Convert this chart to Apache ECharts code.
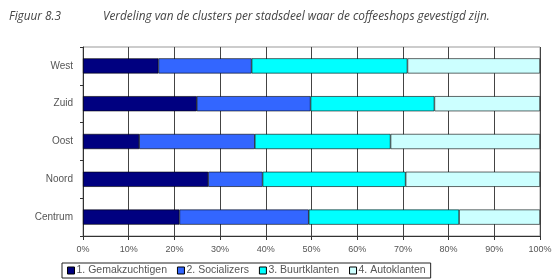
<!DOCTYPE html>
<html>
<head>
<meta charset="utf-8">
<script src="https://cdn.jsdelivr.net/npm/echarts@6/dist/echarts.min.js"></script>
<style>
  html, body { margin: 0; padding: 0; background: #fff; }
  #chart { width: 555px; height: 280px; }
</style>
</head>
<body>
<div id="chart"></div>
<script>
// stadsdelen, van onder naar boven (category axis starts at the bottom)
var districts = ['Centrum', 'Noord', 'Oost', 'Zuid', 'West'];
var clusterNames = ['1. Gemakzuchtigen', '2. Socializers', '3. Buurtklanten', '4. Autoklanten'];
var clusterColors = ['#000080', '#3366ff', '#00ffff', '#ccffff'];

// percentages per cluster, same order as districts
var gemakzuchtigen = [21.1, 27.4, 12.3, 24.9, 16.5];
var socializers = [28.3, 11.9, 25.3, 24.9, 20.4];
var buurtklanten = [32.9, 31.3, 29.7, 27.1, 34.1];
var autoklanten = [17.7, 29.4, 32.7, 23.1, 29.0];

var xTicks = [0, 10, 20, 30, 40, 50, 60, 70, 80, 90, 100];

var chart = echarts.init(document.getElementById('chart'));
var allValues = [gemakzuchtigen, socializers, buurtklanten, autoklanten];

var series = clusterNames.map(function (name, i) {
  return {
    name: name,
    type: 'bar',
    stack: 'totaal',
    barWidth: '40%',
    itemStyle: { color: clusterColors[i], borderColor: '#000', borderWidth: 0.6 },
    data: allValues[i]
  };
});

var titleFont = { fontFamily: 'Open Sans', fontStyle: 'italic', fontWeight: 'normal', fontSize: 11.8, color: '#444' };

var option = {
  animation: false,
  title: [
    { text: 'Figuur 8.3', left: 4, top: 6, textStyle: titleFont },
    { text: 'Verdeling van de clusters per stadsdeel waar de coffeeshops gevestigd zijn.', left: 98, top: 6, textStyle: titleFont }
  ],
  grid: {
    left: 83, right: 15, top: 47, bottom: 44,
    show: true, borderColor: '#999', borderWidth: 1
  },
  legend: {
    data: clusterNames,
    left: 62, top: 263,
    orient: 'horizontal',
    icon: 'rect',
    itemWidth: 7, itemHeight: 7, itemGap: 10,
    padding: [2, 5],
    borderColor: '#222', borderWidth: 1,
    itemStyle: { borderColor: '#000', borderWidth: 1 },
    textStyle: { fontFamily: 'Liberation Sans', fontSize: 10.5, color: '#555', padding: [0, 0, 0, -3] }
  },
  xAxis: {
    type: 'value',
    min: xTicks[0], max: xTicks[xTicks.length - 1], interval: 10,
    axisLine: { show: true, lineStyle: { color: '#333' } },
    axisTick: { show: true, length: 4, lineStyle: { color: '#333' } },
    splitLine: { show: true, lineStyle: { color: '#444', width: 1 } },
    axisLabel: { formatter: '{value}%', fontFamily: 'Liberation Sans', fontSize: 9, color: '#555', margin: 9 }
  },
  yAxis: {
    type: 'category',
    data: districts,
    axisLine: { show: true, lineStyle: { color: '#333' } },
    axisTick: { show: true, length: 3, lineStyle: { color: '#333' } },
    axisLabel: { fontFamily: 'Liberation Sans', fontSize: 10, color: '#555', margin: 10 }
  },
  series: series
};

chart.setOption(option);
</script>
</body>
</html>
